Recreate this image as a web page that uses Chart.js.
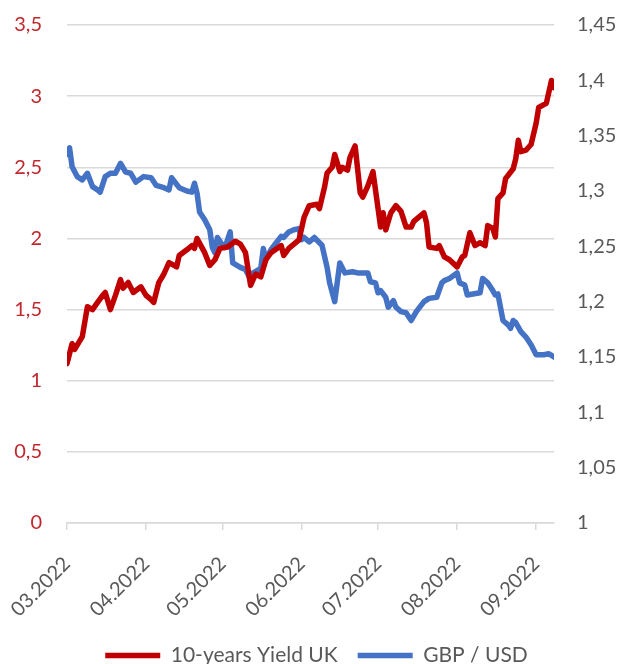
<!DOCTYPE html>
<html lang="en">
<head>
    <meta charset="UTF-8">
    <script src="https://cdn.jsdelivr.net/npm/chart.js@4"></script>
    <title>Yield UK vs GBP/USD</title>
    <style>
        body { margin: 0; background: #ffffff; }
        .chart-container { position: relative; width: 633px; height: 664px; }
    </style>
</head>
<body>
    <div class="chart-container">
        <canvas id="myChart"></canvas>
    </div>

    <script>
        // dates are MM-DD in 2022
        const yieldDates = ['03-01','03-03','03-04','03-07','03-09','03-11','03-13','03-15','03-16','03-18',
            '03-20','03-22','03-23','03-25','03-27','03-30','04-01','04-03','04-04','04-06',
            '04-08','04-10','04-13','04-14','04-17','04-19','04-20','04-21','04-24','04-26',
            '04-28','04-30','05-03','05-06','05-08','05-10','05-12','05-14','05-16','05-18',
            '05-20','05-24','05-25','05-27','05-29','05-31','06-02','06-04','06-07','06-08',
            '06-10','06-11','06-13','06-14','06-16','06-17','06-19','06-20','06-22','06-24',
            '06-25','06-27','06-29','06-30','07-02','07-03','07-04','07-06','07-08','07-10',
            '07-12','07-14','07-15','07-19','07-20','07-21','07-24','07-25','07-27','07-29',
            '08-01','08-03','08-04','08-06','08-08','08-10','08-12','08-13','08-15','08-16',
            '08-17','08-19','08-20','08-23','08-24','08-25','08-26','08-28','08-30','09-01',
            '09-02','09-04','09-05','09-07','09-08'];
        const yieldUK = [1.12,1.26,1.22,1.31,1.52,1.50,1.55,1.60,1.62,1.50,
            1.60,1.71,1.65,1.69,1.62,1.66,1.60,1.57,1.55,1.69,
            1.75,1.83,1.80,1.88,1.92,1.95,1.93,2.00,1.90,1.81,
            1.85,1.93,1.94,1.98,1.96,1.90,1.67,1.75,1.73,1.85,
            1.90,1.95,1.88,1.93,1.96,1.99,2.15,2.23,2.24,2.21,
            2.36,2.46,2.50,2.59,2.47,2.50,2.48,2.57,2.65,2.32,
            2.29,2.37,2.47,2.34,2.08,2.18,2.06,2.18,2.23,2.19,
            2.08,2.08,2.12,2.18,2.11,1.94,1.93,1.95,1.87,1.85,
            1.80,1.87,1.88,2.04,1.95,1.97,1.95,2.09,2.07,2.01,
            2.28,2.32,2.42,2.49,2.56,2.69,2.61,2.62,2.66,2.81,
            2.92,2.94,2.95,3.11,3.06];

        const gbpDates = ['03-01','03-02','03-03','03-05','03-07','03-09','03-11','03-13','03-14','03-16',
            '03-18','03-20','03-22','03-24','03-26','03-28','03-31','04-03','04-05','04-08',
            '04-10','04-11','04-14','04-17','04-19','04-20','04-21','04-22','04-24','04-26',
            '04-27','04-28','04-29','05-01','05-02','05-04','05-05','05-08','05-10','05-12',
            '05-13','05-16','05-17','05-18','05-20','05-22','05-24','05-25','05-27','05-29',
            '05-31','06-01','06-02','06-04','06-06','06-09','06-11','06-12','06-14','06-16',
            '06-18','06-21','06-23','06-27','06-28','06-30','07-01','07-02','07-04','07-05',
            '07-07','07-08','07-10','07-12','07-14','07-16','07-19','07-21','07-24','07-26',
            '07-27','07-29','08-01','08-02','08-04','08-05','08-10','08-11','08-13','08-15',
            '08-16','08-17','08-19','08-21','08-22','08-23','08-24','08-26','08-28','08-30',
            '09-01','09-04','09-06','09-08'];
        const gbpUsd = [1.333,1.339,1.322,1.313,1.310,1.316,1.304,1.301,1.299,1.313,
            1.316,1.316,1.325,1.317,1.316,1.308,1.313,1.312,1.305,1.303,
            1.301,1.312,1.303,1.300,1.299,1.307,1.298,1.281,1.274,1.265,
            1.249,1.244,1.258,1.251,1.249,1.263,1.235,1.231,1.229,1.220,
            1.226,1.230,1.248,1.238,1.247,1.253,1.259,1.258,1.263,1.265,
            1.266,1.256,1.258,1.254,1.258,1.251,1.231,1.217,1.200,1.235,
            1.226,1.227,1.226,1.226,1.218,1.217,1.208,1.210,1.204,1.195,
            1.201,1.195,1.191,1.190,1.183,1.191,1.200,1.203,1.204,1.217,
            1.219,1.221,1.226,1.217,1.215,1.206,1.208,1.221,1.217,1.210,
            1.206,1.207,1.183,1.179,1.176,1.183,1.181,1.173,1.168,1.161,
            1.152,1.152,1.153,1.150];

        const monthTicks = ['03-01','04-01','05-01','06-01','07-01','08-01','09-01'];
        const monthLabels = ['03.2022','04.2022','05.2022','06.2022','07.2022','08.2022','09.2022'];
        const lastDate = '09-08';

        const t0 = Date.parse('2022-03-01T00:00:00Z');
        function dayOf(d) {
            return (Date.parse('2022-' + d + 'T00:00:00Z') - t0) / 86400000;
        }
        function points(dates, vals) {
            return dates.map((d, i) => ({ x: dayOf(d), y: vals[i] }));
        }
        const tickDays = monthTicks.map(dayOf);

        const fontName = "Lato, 'Open Sans', sans-serif";
        const gridColor = '#d9d9d9';

        // tick label padding would otherwise shrink the plot area
        function fixVertical(width) {
            return function(scale) {
                scale.width = width;
                scale.paddingTop = 10;
                scale.paddingBottom = 10;
            };
        }

        const data = {
            datasets: [{
                label: '10-years Yield UK',
                data: points(yieldDates, yieldUK),
                borderColor: '#C00000',
                backgroundColor: '#C00000',
                borderWidth: 5.5,
                borderJoinStyle: 'round',
                borderCapStyle: 'round',
                pointRadius: 0,
                tension: 0,
                yAxisID: 'y'
            }, {
                label: 'GBP / USD',
                data: points(gbpDates, gbpUsd),
                borderColor: '#4472C4',
                backgroundColor: '#4472C4',
                borderWidth: 5.5,
                borderJoinStyle: 'round',
                borderCapStyle: 'round',
                pointRadius: 0,
                tension: 0,
                yAxisID: 'y1'
            }]
        };

        const options = {
            responsive: true,
            maintainAspectRatio: false,
            animation: false,
            layout: {
                padding: { top: 25, bottom: -12, left: 0, right: 0 }
            },
            scales: {
                x: {
                    type: 'linear',
                    min: 0,
                    max: dayOf(lastDate),
                    afterBuildTicks: function(scale) {
                        scale.ticks = tickDays.map(v => ({ value: v }));
                    },
                    afterFit: function(scale) {
                        scale.height = 102;
                        scale.paddingLeft = 0;
                        scale.paddingRight = 0;
                    },
                    grid: {
                        drawOnChartArea: false,
                        color: gridColor,
                        lineWidth: 1.5,
                        tickLength: 7
                    },
                    border: { display: true, color: gridColor, width: 1.5 },
                    ticks: {
                        color: '#595959',
                        font: { family: fontName, size: 20 },
                        autoSkip: false,
                        minRotation: 45,
                        maxRotation: 45,
                        padding: 22,
                        callback: function(val) {
                            const i = tickDays.indexOf(val);
                            return i >= 0 ? monthLabels[i] : '';
                        }
                    }
                },
                y: {
                    position: 'left',
                    min: 0,
                    max: 3.5,
                    afterFit: fixVertical(67),
                    grid: { color: gridColor, lineWidth: 1.5, drawTicks: false },
                    border: { display: false },
                    ticks: {
                        stepSize: 0.5,
                        padding: 25,
                        color: '#C0282D',
                        font: { family: fontName, size: 20 },
                        callback: v => String(v).replace('.', ',')
                    }
                },
                y1: {
                    position: 'right',
                    min: 1,
                    max: 1.45,
                    afterFit: fixVertical(633 - 554),
                    grid: { drawOnChartArea: false, drawTicks: false },
                    border: { display: false },
                    ticks: {
                        stepSize: 0.05,
                        padding: 23,
                        color: '#595959',
                        font: { family: fontName, size: 20 },
                        callback: v => String(Math.round(v * 100) / 100).replace('.', ',')
                    }
                }
            },
            plugins: {
                legend: {
                    display: true,
                    position: 'bottom',
                    labels: {
                        color: '#595959',
                        font: { family: fontName, size: 21 },
                        usePointStyle: true,
                        pointStyle: 'line',
                        pointStyleWidth: 55,
                        padding: 20
                    }
                },
                tooltip: { enabled: false }
            }
        };

        const config = {
            type: 'line',
            data: data,
            options: options
        };

        var myChart = new Chart(document.getElementById('myChart'), config);
    </script>
</body>
</html>
